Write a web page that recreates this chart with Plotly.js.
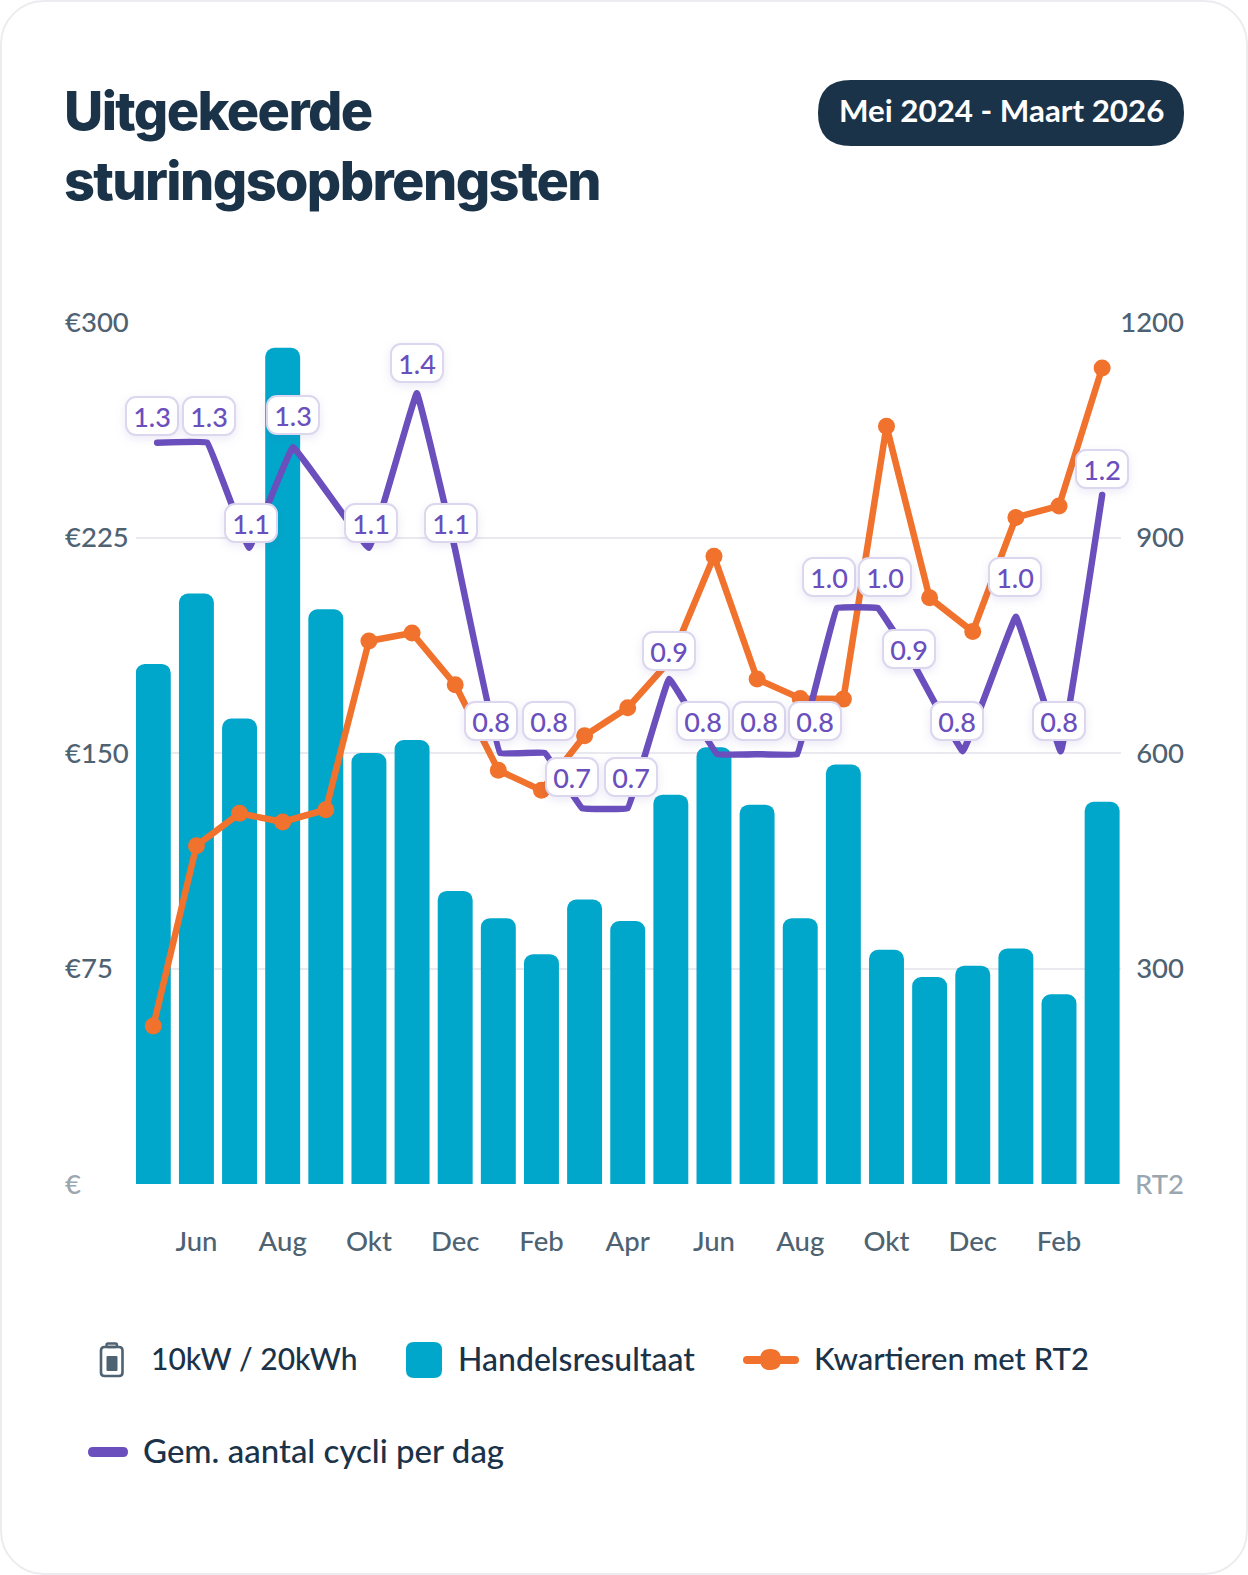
<!DOCTYPE html>
<html><head><meta charset="utf-8">
<script src="https://cdn.plot.ly/plotly-3.0.1.min.js"></script>
<style>
html,body{margin:0;padding:0;background:#fff;width:1248px;height:1575px;overflow:hidden}
#card{position:absolute;left:0;top:0;width:1244px;height:1571px;border:2px solid #ececf0;border-radius:44px;background:#fff}
#chart{position:absolute;left:0;top:0;width:1248px;height:1575px}
svg text{font-variant-numeric:proportional-nums}
.gtitle{letter-spacing:-1.6px}
</style></head><body>
<div id="card"></div><div id="chart"></div>
<script>
const months=[0,1,2,3,4,5,6,7,8,9,10,11,12,13,14,15,16,17,18,19,20,21,22];
const tickIdx=[1,3,5,7,9,11,13,15,17,19,21];
const tickLabels=['Jun','Aug','Okt','Dec','Feb','Apr','Jun','Aug','Okt','Dec','Feb'];
const handelsresultaat=[181,205.5,162,291,200,150,154.5,102,92.5,80,99,91.5,135.5,152,132,92.5,146,81.5,72,76,82,66,133];
const kwartierenRT2=[220,471,516,504,521,756,767,695,576,548,624,663,730,874,703,676,675,1055,816,769,928,944,1136];
const cycliX=[0.09,1.25,2.22,3.24,5.0,6.11,6.99,8.04,9.08,9.94,11.0,11.96,13.07,14.04,14.93,15.85,16.8,17.52,18.77,20.0,21.04,22.0];
const cycliY=[1.29,1.29,1.107,1.282,1.107,1.376,1.107,0.75,0.75,0.654,0.654,0.879,0.748,0.748,0.748,1.002,1.002,0.92,0.753,0.987,0.753,1.199];
const cycliLabels=['1.3','1.3','1.1','1.3','1.1','1.4','1.1','0.8','0.8','0.7','0.7','0.9','0.8','0.8','0.8','1.0','1.0','0.9','0.8','1.0','0.8','1.2'];
const labelDx=[-5,2,2,0,2,0,-4,-9,4,-10,3,0,-14,0,18,-8,7,0,-6,-1,-2,0];
const labelUp=[27,27,25,32,25,30,25,32,32,31,31,28,33,33,33,31,31,6,30,40,30,26];
const leftTicks=[0,75,150,225,300];
const leftTickText=['€','€75','€150','€225','€300'];
const rightTicks=[0,300,600,900,1200];
const rightTickText=['RT2','300','600','900','1200'];

const W=1248,H=1575,FONT='Lato, sans-serif';
const NAVY='#1b3349',TICK='#4e6272',MUTED='#9aa6b0',TEAL='#01a7cb',ORANGE='#f0722c',PURPLE='#6a4fbd';
const px=x=>x/W, py=y=>1-y/H;
const muted=s=>'<span style="color:'+MUTED+'">'+s+'</span>';
function rr(x0,y0,x1,y1,r){
  const P=(x,y)=>px(x)+','+py(y);
  return 'M'+P(x0+r,y0)+' L'+P(x1-r,y0)+' Q'+P(x1,y0)+' '+P(x1,y0+r)+' L'+P(x1,y1-r)+' Q'+P(x1,y1)+' '+P(x1-r,y1)+
   ' L'+P(x0+r,y1)+' Q'+P(x0,y1)+' '+P(x0,y1-r)+' L'+P(x0,y0+r)+' Q'+P(x0,y0)+' '+P(x0+r,y0)+' Z';
}
const sh=(path,fill,line,w)=>({type:'path',xref:'paper',yref:'paper',path:path,fillcolor:fill||'rgba(0,0,0,0)',line:{color:line||'rgba(0,0,0,0)',width:w||0}});
const shapes=[
  {type:'rect',xref:'x',yref:'y',x0:22.228,x1:22.6,y0:0,y1:305,fillcolor:'#fff',line:{width:0},layer:'below'},
  sh(rr(818,80,1184,146,33),NAVY),
  sh(rr(101,1347,122.5,1376,3.5),'rgba(0,0,0,0)',TICK,2.6),
  sh(rr(106.5,1343.5,117,1347,1.5),'rgba(0,0,0,0)',TICK,2.4),
  sh(rr(106.5,1356,117.5,1371,1),TICK),
  sh(rr(406,1342,442,1378,8),TEAL),
  sh(rr(743,1356,799,1364,4),ORANGE),
  sh(rr(760,1349,781,1370,10.5),ORANGE),
  sh(rr(88,1447,128,1457,5),PURPLE)
];
const legendText=(t,x,y,s)=>({xref:'paper',yref:'paper',x:px(x),y:py(y),xanchor:'left',yanchor:'middle',text:t,showarrow:false,font:{family:FONT,size:s,color:NAVY,weight:500}});
const anns=[
  {xref:'paper',yref:'paper',x:px(1001),y:py(110),xanchor:'center',yanchor:'middle',text:'Mei 2024 - Maart 2026',showarrow:false,font:{family:FONT,size:31.3,color:'#fff',weight:700}},
  legendText('10kW / 20kWh',149,1358,30),
  legendText('Handelsresultaat',456,1358,32),
  legendText('Kwartieren met RT2',812,1358,31),
  legendText('Gem. aantal cycli per dag',141,1450,33)
];
cycliX.forEach((x,i)=>anns.push({xref:'x',yref:'y3',x:x,y:cycliY[i],text:cycliLabels[i],showarrow:false,xshift:labelDx[i],yshift:labelUp[i],
  width:50,height:36,align:'center',valign:'middle',bgcolor:'#fff',bordercolor:'#dcd7ee',borderwidth:2,borderpad:0,captureevents:false,
  font:{family:FONT,size:27,color:PURPLE,weight:500}}));

const traces=[
 {type:'bar',name:'Handelsresultaat',x:months,y:handelsresultaat,xaxis:'x',yaxis:'y',marker:{color:TEAL,line:{width:0}},cliponaxis:false,hoverinfo:'skip'},
 {type:'scatter',mode:'lines+markers',name:'Kwartieren met RT2',x:months,y:kwartierenRT2,xaxis:'x',yaxis:'y2',line:{color:ORANGE,width:6.5},marker:{color:ORANGE,size:17},cliponaxis:false,hoverinfo:'skip'},
 {type:'scatter',mode:'lines',name:'Gem. aantal cycli per dag',x:cycliX,y:cycliY,xaxis:'x',yaxis:'y3',line:{color:PURPLE,width:6.5,shape:'spline',smoothing:0.15},cliponaxis:false,hoverinfo:'skip'}
];
const dom=[(H-1184)/H,(H-322)/H];
const tickFont={family:FONT,size:27.5,color:TICK,weight:500};
const layout={
 width:W,height:H,margin:{l:0,r:0,t:0,b:0},paper_bgcolor:'rgba(0,0,0,0)',plot_bgcolor:'rgba(0,0,0,0)',showlegend:false,
 bargap:0.19,barcornerradius:9,
 title:{text:'Uitgekeerde<br>sturingsopbrengsten',x:px(64),xanchor:'left',y:py(130),yanchor:'top',xref:'paper',yref:'paper',font:{family:'Inter, sans-serif',size:54,color:NAVY,weight:800}},
 xaxis:{domain:[px(136),px(1120.6)],range:[-0.401,22.428],tickmode:'array',tickvals:tickIdx,ticktext:tickLabels,showgrid:false,zeroline:false,showline:false,ticks:'',ticklabelstandoff:38,tickfont:tickFont,automargin:false},
 yaxis:{domain:dom,range:[0,300],anchor:'free',position:px(61),tickmode:'array',tickvals:leftTicks,ticktext:leftTickText.map(t=>t==='€'?muted(t):t),ticklabelposition:'inside',ticklabeloverflow:'allow',showgrid:true,gridcolor:'#e9e9ef',gridwidth:2,zeroline:false,showline:false,ticks:'',tickfont:tickFont,automargin:false},
 yaxis2:{domain:dom,range:[0,1200],overlaying:'y',side:'right',anchor:'free',position:px(1187),tickmode:'array',tickvals:rightTicks,ticktext:rightTickText.map(t=>t==='RT2'?muted(t):t),ticklabelposition:'inside',ticklabeloverflow:'allow',showgrid:false,zeroline:false,showline:false,ticks:'',tickfont:tickFont,automargin:false},
 yaxis3:{domain:dom,range:[0,1.5],overlaying:'y',visible:false},
 shapes:shapes,annotations:anns
};
Plotly.newPlot('chart',traces,layout,{displayModeBar:false,staticPlot:true}).then(()=>{
  document.querySelectorAll('.annotation rect.bg').forEach(r=>{
    if(+r.getAttribute('width')<70 && +r.getAttribute('width')>40){
      r.setAttribute('rx',10);r.setAttribute('ry',10);
      r.style.filter='drop-shadow(0 3px 5px rgba(90,70,170,.12))';
    }
  });
  document.querySelectorAll('.scatterlayer path.js-line').forEach(p=>{
    p.style.setProperty('stroke-linejoin','round');p.style.setProperty('stroke-linecap','round');
  });
});
</script></body></html>
